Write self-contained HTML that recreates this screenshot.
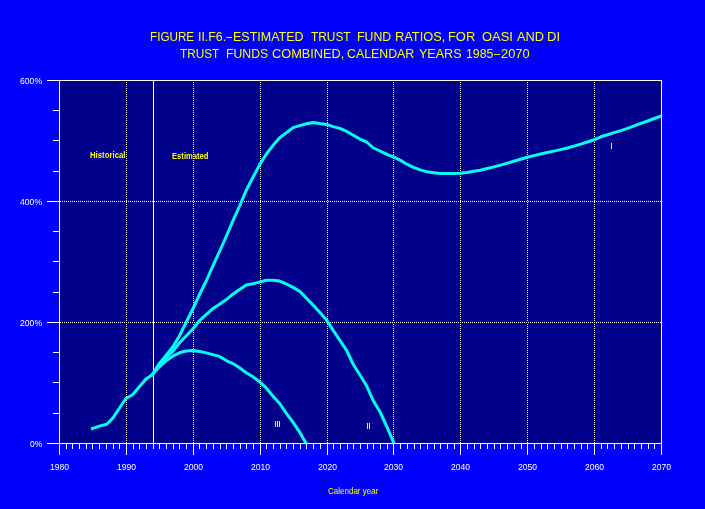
<!DOCTYPE html>
<html><head><meta charset="utf-8"><title>Figure II.F6 Estimated Trust Fund Ratios</title>
<style>
html,body{margin:0;padding:0;background:#0000FF;}
body{width:705px;height:509px;overflow:hidden;}
svg{display:block;will-change:transform;}
text{font-family:"Liberation Sans",Arial,sans-serif;white-space:pre;}
.t{fill:#FFFF00;font-size:13px;}
.ax{fill:#FFFFFF;font-size:9px;}
.lb{fill:#FFFF00;font-size:8.5px;}
.lbb{fill:#FFFF00;font-size:9px;font-weight:bold;}
.rn{fill:#FFFF00;font-size:10.72px;}
</style></head>
<body>
<svg width="705" height="509" viewBox="0 0 705 509">
<defs>
<pattern id="vd" width="1" height="2" patternUnits="userSpaceOnUse"><rect width="1" height="1" fill="#fff"/><rect y="1" width="1" height="1" fill="#000"/></pattern>
<pattern id="hd" width="2" height="1" patternUnits="userSpaceOnUse"><rect width="1" height="1" fill="#fff"/><rect x="1" width="1" height="1" fill="#000"/></pattern>
<clipPath id="pc"><rect x="60" y="81" width="601" height="362"/></clipPath>
</defs>
<rect width="705" height="509" fill="#0000FF"/>
<g shape-rendering="crispEdges">
<rect x="60" y="81" width="601" height="362" fill="#00008B"/>
</g>
<text class="rn" x="610.01" y="0" transform="translate(0,149) scale(1,0.8152)">I</text>
<text class="rn" x="366.01 368.01" y="0" transform="translate(0,429) scale(1,0.8152)">II</text>
<text class="rn" x="274.01 276.01 278.01" y="0" transform="translate(0,427) scale(1,0.8152)">III</text>
<text class="lbb" x="90.00" y="158" textLength="35.48" lengthAdjust="spacingAndGlyphs">Historical</text>
<text class="lbb" x="172.00" y="159" textLength="36.48" lengthAdjust="spacingAndGlyphs">Estimated</text>
<g shape-rendering="crispEdges">
<rect x="126" y="81" width="1" height="362" fill="url(#vd)"/>
<rect x="193" y="81" width="1" height="362" fill="url(#vd)"/>
<rect x="260" y="81" width="1" height="362" fill="url(#vd)"/>
<rect x="327" y="81" width="1" height="362" fill="url(#vd)"/>
<rect x="393" y="81" width="1" height="362" fill="url(#vd)"/>
<rect x="460" y="81" width="1" height="362" fill="url(#vd)"/>
<rect x="527" y="81" width="1" height="362" fill="url(#vd)"/>
<rect x="594" y="81" width="1" height="362" fill="url(#vd)"/>
<rect x="60" y="322" width="601" height="1" fill="url(#hd)"/>
<rect x="60" y="201" width="601" height="1" fill="url(#hd)"/>
<rect x="153" y="81" width="1" height="362" fill="#fff"/>
<rect x="47" y="80" width="615" height="1" fill="#fff"/>
<rect x="47" y="443" width="615" height="1" fill="#fff"/>
<rect x="59" y="80" width="1" height="375" fill="#fff"/>
<rect x="661" y="80" width="1" height="375" fill="#fff"/>
<rect x="47" y="80" width="12" height="1" fill="#fff"/>
<rect x="53" y="110" width="6" height="1" fill="#fff"/>
<rect x="53" y="140" width="6" height="1" fill="#fff"/>
<rect x="53" y="171" width="6" height="1" fill="#fff"/>
<rect x="47" y="201" width="12" height="1" fill="#fff"/>
<rect x="53" y="231" width="6" height="1" fill="#fff"/>
<rect x="53" y="261" width="6" height="1" fill="#fff"/>
<rect x="53" y="292" width="6" height="1" fill="#fff"/>
<rect x="47" y="322" width="12" height="1" fill="#fff"/>
<rect x="53" y="352" width="6" height="1" fill="#fff"/>
<rect x="53" y="382" width="6" height="1" fill="#fff"/>
<rect x="53" y="413" width="6" height="1" fill="#fff"/>
<rect x="47" y="443" width="12" height="1" fill="#fff"/>
<rect x="59" y="444" width="1" height="11" fill="#fff"/>
<rect x="66" y="444" width="1" height="5" fill="#fff"/>
<rect x="72" y="444" width="1" height="5" fill="#fff"/>
<rect x="79" y="444" width="1" height="5" fill="#fff"/>
<rect x="86" y="444" width="1" height="5" fill="#fff"/>
<rect x="92" y="444" width="1" height="5" fill="#fff"/>
<rect x="99" y="444" width="1" height="5" fill="#fff"/>
<rect x="106" y="444" width="1" height="5" fill="#fff"/>
<rect x="113" y="444" width="1" height="5" fill="#fff"/>
<rect x="119" y="444" width="1" height="5" fill="#fff"/>
<rect x="126" y="444" width="1" height="11" fill="#fff"/>
<rect x="133" y="444" width="1" height="5" fill="#fff"/>
<rect x="139" y="444" width="1" height="5" fill="#fff"/>
<rect x="146" y="444" width="1" height="5" fill="#fff"/>
<rect x="153" y="444" width="1" height="5" fill="#fff"/>
<rect x="159" y="444" width="1" height="5" fill="#fff"/>
<rect x="166" y="444" width="1" height="5" fill="#fff"/>
<rect x="173" y="444" width="1" height="5" fill="#fff"/>
<rect x="179" y="444" width="1" height="5" fill="#fff"/>
<rect x="186" y="444" width="1" height="5" fill="#fff"/>
<rect x="193" y="444" width="1" height="11" fill="#fff"/>
<rect x="199" y="444" width="1" height="5" fill="#fff"/>
<rect x="206" y="444" width="1" height="5" fill="#fff"/>
<rect x="213" y="444" width="1" height="5" fill="#fff"/>
<rect x="220" y="444" width="1" height="5" fill="#fff"/>
<rect x="226" y="444" width="1" height="5" fill="#fff"/>
<rect x="233" y="444" width="1" height="5" fill="#fff"/>
<rect x="240" y="444" width="1" height="5" fill="#fff"/>
<rect x="246" y="444" width="1" height="5" fill="#fff"/>
<rect x="253" y="444" width="1" height="5" fill="#fff"/>
<rect x="260" y="444" width="1" height="11" fill="#fff"/>
<rect x="266" y="444" width="1" height="5" fill="#fff"/>
<rect x="273" y="444" width="1" height="5" fill="#fff"/>
<rect x="280" y="444" width="1" height="5" fill="#fff"/>
<rect x="286" y="444" width="1" height="5" fill="#fff"/>
<rect x="293" y="444" width="1" height="5" fill="#fff"/>
<rect x="300" y="444" width="1" height="5" fill="#fff"/>
<rect x="306" y="444" width="1" height="5" fill="#fff"/>
<rect x="313" y="444" width="1" height="5" fill="#fff"/>
<rect x="320" y="444" width="1" height="5" fill="#fff"/>
<rect x="327" y="444" width="1" height="11" fill="#fff"/>
<rect x="333" y="444" width="1" height="5" fill="#fff"/>
<rect x="340" y="444" width="1" height="5" fill="#fff"/>
<rect x="347" y="444" width="1" height="5" fill="#fff"/>
<rect x="353" y="444" width="1" height="5" fill="#fff"/>
<rect x="360" y="444" width="1" height="5" fill="#fff"/>
<rect x="367" y="444" width="1" height="5" fill="#fff"/>
<rect x="373" y="444" width="1" height="5" fill="#fff"/>
<rect x="380" y="444" width="1" height="5" fill="#fff"/>
<rect x="387" y="444" width="1" height="5" fill="#fff"/>
<rect x="393" y="444" width="1" height="11" fill="#fff"/>
<rect x="400" y="444" width="1" height="5" fill="#fff"/>
<rect x="407" y="444" width="1" height="5" fill="#fff"/>
<rect x="414" y="444" width="1" height="5" fill="#fff"/>
<rect x="420" y="444" width="1" height="5" fill="#fff"/>
<rect x="427" y="444" width="1" height="5" fill="#fff"/>
<rect x="434" y="444" width="1" height="5" fill="#fff"/>
<rect x="440" y="444" width="1" height="5" fill="#fff"/>
<rect x="447" y="444" width="1" height="5" fill="#fff"/>
<rect x="454" y="444" width="1" height="5" fill="#fff"/>
<rect x="460" y="444" width="1" height="11" fill="#fff"/>
<rect x="467" y="444" width="1" height="5" fill="#fff"/>
<rect x="474" y="444" width="1" height="5" fill="#fff"/>
<rect x="480" y="444" width="1" height="5" fill="#fff"/>
<rect x="487" y="444" width="1" height="5" fill="#fff"/>
<rect x="494" y="444" width="1" height="5" fill="#fff"/>
<rect x="500" y="444" width="1" height="5" fill="#fff"/>
<rect x="507" y="444" width="1" height="5" fill="#fff"/>
<rect x="514" y="444" width="1" height="5" fill="#fff"/>
<rect x="521" y="444" width="1" height="5" fill="#fff"/>
<rect x="527" y="444" width="1" height="11" fill="#fff"/>
<rect x="534" y="444" width="1" height="5" fill="#fff"/>
<rect x="541" y="444" width="1" height="5" fill="#fff"/>
<rect x="547" y="444" width="1" height="5" fill="#fff"/>
<rect x="554" y="444" width="1" height="5" fill="#fff"/>
<rect x="561" y="444" width="1" height="5" fill="#fff"/>
<rect x="567" y="444" width="1" height="5" fill="#fff"/>
<rect x="574" y="444" width="1" height="5" fill="#fff"/>
<rect x="581" y="444" width="1" height="5" fill="#fff"/>
<rect x="587" y="444" width="1" height="5" fill="#fff"/>
<rect x="594" y="444" width="1" height="11" fill="#fff"/>
<rect x="601" y="444" width="1" height="5" fill="#fff"/>
<rect x="607" y="444" width="1" height="5" fill="#fff"/>
<rect x="614" y="444" width="1" height="5" fill="#fff"/>
<rect x="621" y="444" width="1" height="5" fill="#fff"/>
<rect x="628" y="444" width="1" height="5" fill="#fff"/>
<rect x="634" y="444" width="1" height="5" fill="#fff"/>
<rect x="641" y="444" width="1" height="5" fill="#fff"/>
<rect x="648" y="444" width="1" height="5" fill="#fff"/>
<rect x="654" y="444" width="1" height="5" fill="#fff"/>
<rect x="661" y="444" width="1" height="11" fill="#fff"/>
</g>
<g fill="none" stroke="#00FFFF" stroke-width="3" stroke-linejoin="round" stroke-linecap="square" clip-path="url(#pc)">
<polyline points="92.4,428.5 100.1,425.9 106.8,424.2 113.0,417.9 119.2,408.5 125.9,398.5 132.6,394.7 139.3,386.8 146.0,379.0 152.6,374.4 159.3,363.5 166.0,355.5 172.7,347.0 179.4,336.0 186.1,322.5 192.8,309.0 199.5,294.5 206.2,281.0 212.8,266.2 219.5,251.5 226.2,236.5 232.9,220.8 239.6,206.0 246.3,190.2 253.0,177.3 259.7,164.6 266.4,154.0 273.0,145.3 279.7,137.7 286.4,132.8 293.1,127.6 299.8,125.6 306.5,123.8 313.2,122.5 319.9,123.6 326.6,124.4 333.2,126.6 339.9,128.4 346.6,131.4 353.3,135.2 360.0,139.1 366.7,142.0 373.4,148.0 380.1,151.0 386.8,154.4 393.4,156.9 400.1,160.1 406.8,164.2 413.5,167.4 420.2,169.9 426.9,171.8 433.6,172.8 440.3,173.5 447.0,173.5 453.6,173.5 460.3,173.3 467.0,172.4 473.7,171.3 480.4,170.3 487.1,168.5 493.8,166.9 500.5,165.1 507.2,163.2 513.8,161.2 520.5,159.2 527.2,157.2 533.9,155.6 540.6,154.0 547.3,152.5 554.0,151.1 560.7,149.6 567.4,148.0 574.0,146.1 580.7,144.1 587.4,142.0 594.1,139.8 600.8,136.8 607.5,134.7 614.2,132.6 620.9,130.6 627.6,128.3 634.2,125.9 640.9,123.3 647.6,121.0 654.3,118.5 661.0,116.1"/>
<polyline points="152.6,374.4 159.3,364.8 166.0,357.5 172.7,351.5 179.4,343.0 186.1,336.0 192.8,329.0 199.5,320.6 206.2,314.6 212.8,308.7 219.5,304.3 226.2,299.7 232.9,294.2 239.6,289.5 246.3,284.9 253.0,283.7 259.7,282.0 266.4,280.3 273.0,280.3 279.7,281.1 286.4,284.0 293.1,287.4 299.8,291.4 306.5,298.3 313.2,305.2 319.9,312.5 326.6,320.1 333.2,330.4 339.9,340.3 346.6,350.3 353.3,364.5 360.0,375.0 366.7,386.0 373.4,401.0 380.1,412.0 386.8,426.6 393.4,442.0"/>
<polyline points="152.6,374.4 159.3,366.8 166.0,360.8 172.7,356.2 179.4,352.8 186.1,351.0 192.8,350.5 199.5,351.4 206.2,352.9 212.8,354.6 219.5,356.4 226.2,360.6 232.9,363.6 239.6,367.8 246.3,372.8 253.0,376.8 259.7,381.8 266.4,388.2 273.0,396.2 279.7,403.5 286.4,413.3 293.1,422.4 299.8,432.4 306.5,444.0"/>
</g>
<text class="t" x="150.00" y="41" textLength="44.16" lengthAdjust="spacingAndGlyphs">FIGURE</text>
<text class="t" x="198.00" y="41" textLength="28.16" lengthAdjust="spacingAndGlyphs">II.F6.</text>
<text class="t" x="226.00" y="41" textLength="6.08" lengthAdjust="spacingAndGlyphs">–</text>
<text class="t" x="233.00" y="41" textLength="70.59" lengthAdjust="spacingAndGlyphs">ESTIMATED</text>
<text class="t" x="311.00" y="41" textLength="39.57" lengthAdjust="spacingAndGlyphs">TRUST</text>
<text class="t" x="357.00" y="41" textLength="34.15" lengthAdjust="spacingAndGlyphs">FUND</text>
<text class="t" x="395.00" y="41" textLength="50.36" lengthAdjust="spacingAndGlyphs">RATIOS,</text>
<text class="t" x="448.00" y="41" textLength="27.22" lengthAdjust="spacingAndGlyphs">FOR</text>
<text class="t" x="482.00" y="41" textLength="30.96" lengthAdjust="spacingAndGlyphs">OASI</text>
<text class="t" x="517.00" y="41" textLength="27.07" lengthAdjust="spacingAndGlyphs">AND</text>
<text class="t" x="547.00" y="41" textLength="13.08" lengthAdjust="spacingAndGlyphs">DI</text>
<text class="t" x="180.00" y="58" textLength="39.33" lengthAdjust="spacingAndGlyphs">TRUST</text>
<text class="t" x="226.00" y="58" textLength="42.16" lengthAdjust="spacingAndGlyphs">FUNDS</text>
<text class="t" x="272.00" y="58" textLength="72.37" lengthAdjust="spacingAndGlyphs">COMBINED,</text>
<text class="t" x="347.00" y="58" textLength="67.17" lengthAdjust="spacingAndGlyphs">CALENDAR</text>
<text class="t" x="419.00" y="58" textLength="42.51" lengthAdjust="spacingAndGlyphs">YEARS</text>
<text class="t" x="466.00" y="58" textLength="27.30" lengthAdjust="spacingAndGlyphs">1985</text>
<text class="t" x="494.00" y="58" textLength="6.08" lengthAdjust="spacingAndGlyphs">–</text>
<text class="t" x="501.00" y="58" textLength="28.53" lengthAdjust="spacingAndGlyphs">2070</text>
<text class="ax" x="20.00" y="84" textLength="22.10" lengthAdjust="spacingAndGlyphs">600%</text>
<text class="ax" x="20.00" y="205" textLength="22.10" lengthAdjust="spacingAndGlyphs">400%</text>
<text class="ax" x="20.00" y="326" textLength="22.10" lengthAdjust="spacingAndGlyphs">200%</text>
<text class="ax" x="30.00" y="447" textLength="12.10" lengthAdjust="spacingAndGlyphs">0%</text>
<text class="ax" x="50.00" y="470" textLength="19.05" lengthAdjust="spacingAndGlyphs">1980</text>
<text class="ax" x="117.00" y="470" textLength="19.05" lengthAdjust="spacingAndGlyphs">1990</text>
<text class="ax" x="184.00" y="470" textLength="19.06" lengthAdjust="spacingAndGlyphs">2000</text>
<text class="ax" x="251.00" y="470" textLength="19.06" lengthAdjust="spacingAndGlyphs">2010</text>
<text class="ax" x="318.00" y="470" textLength="19.06" lengthAdjust="spacingAndGlyphs">2020</text>
<text class="ax" x="384.00" y="470" textLength="19.06" lengthAdjust="spacingAndGlyphs">2030</text>
<text class="ax" x="451.00" y="470" textLength="19.06" lengthAdjust="spacingAndGlyphs">2040</text>
<text class="ax" x="518.00" y="470" textLength="19.06" lengthAdjust="spacingAndGlyphs">2050</text>
<text class="ax" x="585.00" y="470" textLength="19.06" lengthAdjust="spacingAndGlyphs">2060</text>
<text class="ax" x="652.00" y="470" textLength="19.06" lengthAdjust="spacingAndGlyphs">2070</text>
<text class="lb" x="328.00" y="494" textLength="50.30" lengthAdjust="spacingAndGlyphs">Calendar year</text>
</svg>
</body></html>
